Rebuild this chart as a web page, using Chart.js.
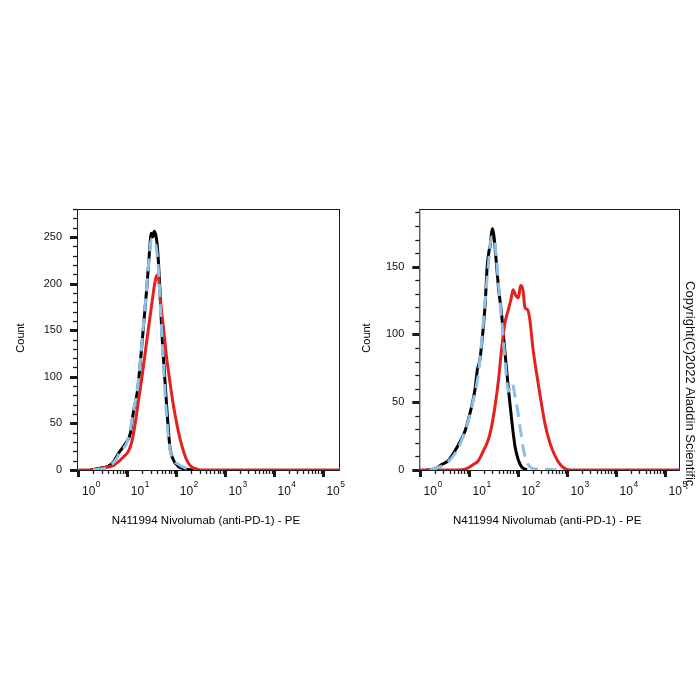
<!DOCTYPE html>
<html>
<head>
<meta charset="utf-8">
<title>Nivolumab PE histograms</title>
<script src="https://cdn.jsdelivr.net/npm/chart.js@4.4.1/dist/chart.umd.min.js"></script>
<style>
  html, body { margin: 0; padding: 0; background: #fff; }
  #wrap { position: relative; width: 700px; height: 700px; }
  canvas { position: absolute; top: 0; }
  #leftChart { left: 0; }
  #rightChart { left: 350px; }
</style>
</head>
<body>
<div id="wrap">
  <canvas id="leftChart" width="350" height="700"></canvas>
  <canvas id="rightChart" width="350" height="700"></canvas>
</div>
<script>
// x values are log10 of PE intensity (0 -> 10^0 ... 5 -> 10^5), y values are counts
const xTitle = 'N411994 Nivolumab (anti-PD-1) - PE';
const yTitle = 'Count';
const copyright = 'Copyright(C)2022 Aladdin Scientific.';
const decades = [0, 1, 2, 3, 4, 5];

// left panel
const leftBlackX = [0.24, 0.44, 0.61, 0.72, 0.82, 0.89, 0.97, 1.06, 1.12, 1.21, 1.27, 1.33, 1.40, 1.45, 1.49, 1.52, 1.55, 1.59, 1.62, 1.66, 1.70, 1.75, 1.81, 1.87, 1.94, 2.04, 2.18, 2.35];
const leftBlackY = [0, 2, 4, 9, 18, 23, 29, 39, 61, 86, 118, 154, 197, 232, 254, 250, 256, 250, 236, 200, 154, 111, 64, 25, 11, 4, 1, 0];
const leftBlueX = [0.30, 0.60, 0.80, 0.86, 0.95, 1.05, 1.12, 1.21, 1.27, 1.33, 1.40, 1.46, 1.50, 1.55, 1.60, 1.64, 1.68, 1.73, 1.78, 1.83, 1.88, 1.95, 2.05, 2.15, 2.30];
const leftBlueY = [0, 3, 14, 22, 25, 40, 62, 88, 120, 156, 198, 236, 248, 246, 236, 212, 170, 120, 75, 40, 20, 10, 6, 3, 0];
const leftRedX = [0.00, 0.24, 0.51, 0.72, 0.82, 0.92, 1.02, 1.09, 1.16, 1.23, 1.30, 1.37, 1.44, 1.51, 1.56, 1.60, 1.64, 1.68, 1.74, 1.80, 1.87, 1.94, 2.01, 2.08, 2.15, 2.22, 2.30, 2.42, 2.55, 5.35];
const leftRedY = [0, 0, 2.5, 5, 9, 14, 20, 30, 50, 75, 100, 128, 155, 182, 200, 209, 205, 180, 152, 122, 95, 70, 50, 33, 20, 10, 4, 1, 0, 0];

// right panel
const rightBlackX = [0.14, 0.31, 0.44, 0.58, 0.71, 0.82, 0.92, 1.02, 1.12, 1.17, 1.22, 1.28, 1.33, 1.37, 1.41, 1.43, 1.46, 1.48, 1.51, 1.55, 1.60, 1.67, 1.73, 1.80, 1.87, 1.94, 2.01, 2.07, 2.18];
const rightBlackY = [0, 1, 4, 7, 14, 21, 29, 42, 59, 74, 81, 101, 123, 150, 162, 165, 175, 178, 172, 156, 135, 113, 88, 61, 37, 17, 7, 2.5, 0];
const rightBlueX = [0.20, 0.54, 0.71, 0.85, 0.99, 1.09, 1.19, 1.26, 1.33, 1.39, 1.46, 1.51, 1.56, 1.63, 1.70, 1.77, 1.80, 1.88, 1.94, 2.00, 2.06, 2.11, 2.18, 2.31, 2.59, 2.79];
const rightBlueY = [0, 5, 12, 22, 37, 52, 71, 96, 125, 150, 172, 171, 155, 125, 96, 66, 58, 64, 54, 42, 27, 15, 6, 1, 0.5, 0];
const rightRedX = [0.00, 0.75, 0.95, 1.09, 1.19, 1.29, 1.39, 1.46, 1.53, 1.60, 1.67, 1.73, 1.80, 1.85, 1.90, 1.95, 2.01, 2.05, 2.10, 2.14, 2.20, 2.24, 2.31, 2.38, 2.45, 2.55, 2.65, 2.76, 2.86, 2.99, 3.13, 5.30];
const rightRedY = [0, 0, 1, 4, 7, 14, 22, 32, 47, 66, 91, 108, 118, 125, 133, 129, 127, 136, 133, 120, 118, 111, 88, 71, 55, 34, 20, 10, 4, 0.5, 0, 0];

const FONT = '"Liberation Sans", Arial, sans-serif';
Chart.defaults.font.family = FONT;

function toPoints(xs, ys) {
    return xs.map((x, i) => ({ x: x, y: ys[i] }));
}

// frame, tick marks, 10^n labels and titles drawn round the chart area
function histogramFrame(countOffset, showCopyright) {
    return {
        id: 'histogramFrame',
        beforeDatasetsDraw(chart) {
            const { ctx, chartArea: a, scales: { x, y } } = chart;
            ctx.save();
            ctx.strokeStyle = '#1a1a1a';
            ctx.lineWidth = 1;
            ctx.strokeRect(a.left + 0.5, a.top + 0.5, a.right - a.left - 1, a.bottom - a.top);

            // y ticks every 10, major every 50
            for (let v = 0; v <= y.max; v += 10) {
                const py = Math.round(y.getPixelForValue(v)) + 0.5;
                const major = v % 50 === 0;
                ctx.lineWidth = major ? 3 : 1.3;
                ctx.beginPath();
                ctx.moveTo(a.left, py);
                ctx.lineTo(a.left - (major ? 7 : 4), py);
                ctx.stroke();
            }
            // x ticks, log decades
            decades.forEach(k => {
                for (let m = 1; m <= 9; m++) {
                    if (k === 5 && m > 1) break;
                    const px = Math.round(x.getPixelForValue(k + Math.log10(m))) + 0.5;
                    const major = m === 1;
                    ctx.lineWidth = major ? 3 : 1.3;
                    ctx.beginPath();
                    ctx.moveTo(px, a.bottom);
                    ctx.lineTo(px, a.bottom + (major ? 7 : 4));
                    ctx.stroke();
                }
            });
            ctx.restore();
        },
        afterDraw(chart) {
            const { ctx, chartArea: a, scales: { x } } = chart;
            ctx.save();
            ctx.fillStyle = '#111';
            ctx.textAlign = 'left';
            ctx.textBaseline = 'alphabetic';
            decades.forEach(k => {
                const px = x.getPixelForValue(k) + 3.5;
                ctx.font = '12px ' + FONT;
                ctx.fillText('10', px, 495);
                const w = ctx.measureText('10').width;
                ctx.font = '8.5px ' + FONT;
                ctx.fillText(String(k), px + w + 0.5, 487);
            });

            ctx.fillStyle = '#000';
            ctx.font = '11.5px ' + FONT;
            ctx.textAlign = 'center';
            ctx.textBaseline = 'middle';
            ctx.fillText(xTitle, (a.left + a.right) / 2 - 2.5, 521);

            ctx.font = '11px ' + FONT;
            ctx.save();
            ctx.translate(a.left - countOffset, a.top + 129);
            ctx.rotate(-Math.PI / 2);
            ctx.fillText(yTitle, 0, 0);
            ctx.restore();

            if (showCopyright) {
                ctx.font = '13px ' + FONT;
                ctx.fillStyle = '#111';
                ctx.translate(339.5, 385.5);
                ctx.rotate(Math.PI / 2);
                ctx.fillText(copyright, 0, 0);
            }
            ctx.restore();
        }
    };
}

function makeChart(id, series, xMin, xMax, yMax, padLeft, padRight, countOffset, showCopyright) {
    new Chart(document.getElementById(id), {
        type: 'line',
        data: {
            // first dataset is drawn on top
            datasets: series.map(s => ({
                data: toPoints(s.x, s.y),
                borderColor: s.color,
                borderWidth: 3,
                borderDash: s.dash || [],
                pointRadius: 0,
                fill: false,
                cubicInterpolationMode: 'monotone'
            }))
        },
        options: {
            responsive: false,
            animation: false,
            events: [],
            layout: { autoPadding: false, padding: { left: padLeft, right: padRight, top: 209, bottom: 230 } },
            plugins: { legend: { display: false }, tooltip: { enabled: false } },
            scales: {
                x: { type: 'linear', min: xMin, max: xMax, display: false },
                y: {
                    min: 0,
                    max: yMax,
                    afterFit: scale => { scale.width = 40; },
                    grid: { display: false, drawTicks: false },
                    border: { display: false },
                    ticks: {
                        stepSize: 50,
                        padding: 15,
                        color: '#111',
                        font: { size: 11 },
                        callback: v => (v % 50 === 0 ? v : '')
                    }
                }
            }
        },
        plugins: [histogramFrame(countOffset, showCopyright)]
    });
}

makeChart('leftChart', [
    { x: leftBlueX, y: leftBlueY, color: '#8dc0e8', dash: [13, 7] },
    { x: leftRedX, y: leftRedY, color: '#e3221f' },
    { x: leftBlackX, y: leftBlackY, color: '#000000' }
], -0.03, 5.35, 280, 37, 10, 56, false);

makeChart('rightChart', [
    { x: rightBlueX, y: rightBlueY, color: '#8dc0e8', dash: [13, 7] },
    { x: rightRedX, y: rightRedY, color: '#e3221f' },
    { x: rightBlackX, y: rightBlackY, color: '#000000' }
], -0.015, 5.305, 192.5, 29.3, 20, 52, true);
</script>
</body>
</html>
